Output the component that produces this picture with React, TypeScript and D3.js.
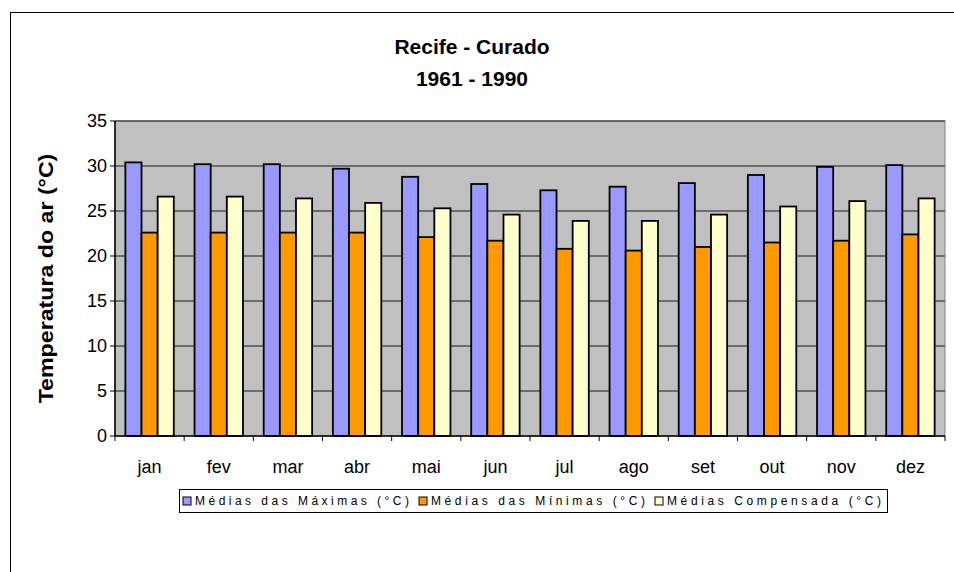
import React from "react";
import * as d3 from "d3";

const months = ["jan", "fev", "mar", "abr", "mai", "jun", "jul", "ago", "set", "out", "nov", "dez"];
const maxima = [30.4, 30.2, 30.2, 29.7, 28.8, 28.0, 27.3, 27.7, 28.1, 29.0, 29.9, 30.1];
const minima = [22.6, 22.6, 22.6, 22.6, 22.1, 21.7, 20.8, 20.6, 21.0, 21.5, 21.7, 22.4];
const compensada = [26.6, 26.6, 26.4, 25.9, 25.3, 24.6, 23.9, 23.9, 24.6, 25.5, 26.1, 26.4];
const seriesNames = ["Médias das Máximas (°C)", "Médias das Mínimas (°C)", "Médias Compensada (°C)"];
const seriesColors = ["#9999FF", "#FF9900", "#FFFFCC"];
const yTicks = [0, 5, 10, 15, 20, 25, 30, 35];
const titleLines = ["Recife - Curado", "1961 - 1990"];
const yTitle = "Temperatura do ar (°C)";

const W = 954;
const H = 572;
const plot = { left: 115, right: 945, top: 121, bottom: 436 };

export default function App() {
  const series = [maxima, minima, compensada];
  const x = d3.scaleBand<string>().domain(months).range([plot.left, plot.right]).paddingInner(0).paddingOuter(0);
  const groupPad = 0.3;
  const inner = d3
    .scaleBand<number>()
    .domain([0, 1, 2])
    .range([x.bandwidth() * (groupPad / 2), x.bandwidth() * (1 - groupPad / 2)]);
  const y = d3.scaleLinear().domain([0, 35]).range([plot.bottom, plot.top]);
  const font = "'Liberation Sans', Arial, sans-serif";

  const legendX = 179;
  const legendY = 489;
  const legendW = 708;
  const legendH = 23;
  const itemW = legendW / 3;

  return (
    <svg width={W} height={H} style={{ position: "absolute", left: 0, top: 0, background: "#fff" }} fontFamily={font}>
      <rect x={10.5} y={12.5} width={960} height={600} fill="#fff" stroke="#000" strokeWidth={1} />
      {titleLines.map((t, i) => (
        <text key={t} x={472} y={54 + i * 32} textAnchor="middle" fontSize={21} fontWeight="bold" fill="#000">
          {t}
        </text>
      ))}
      <rect x={plot.left} y={plot.top} width={plot.right - plot.left} height={plot.bottom - plot.top} fill="#C0C0C0" stroke="#808080" strokeWidth={1} />
      {yTicks.map((v) => (
        <g key={v}>
          {v > 0 && <line x1={plot.left} x2={plot.right} y1={y(v)} y2={y(v)} stroke="#505050" strokeWidth={1.5} />}
          <line x1={plot.left - 5} x2={plot.left} y1={y(v)} y2={y(v)} stroke="#000" strokeWidth={1} />
          <text x={107} y={y(v)} dy="0.35em" textAnchor="end" fontSize={18} fill="#000">
            {v}
          </text>
        </g>
      ))}
      {months.map((m, i) => (
        <g key={m}>
          {series.map((s, k) => (
            <rect
              key={k}
              x={(x(m) as number) + (inner(k) as number)}
              y={y(s[i])}
              width={inner.bandwidth()}
              height={y(0) - y(s[i])}
              fill={seriesColors[k]}
              stroke="#000"
              strokeWidth={1.8}
            />
          ))}
          <text x={(x(m) as number) + x.bandwidth() / 2} y={473} textAnchor="middle" fontSize={18} fill="#000">
            {m}
          </text>
        </g>
      ))}
      <line x1={plot.left} x2={plot.left} y1={plot.top} y2={plot.bottom} stroke="#000" strokeWidth={1.5} />
      <line x1={plot.left} x2={plot.right} y1={plot.bottom} y2={plot.bottom} stroke="#000" strokeWidth={1.5} />
      {months.concat(["end"]).map((m, i) => {
        const xx = plot.left + i * x.step();
        return <line key={"t" + i} x1={xx} x2={xx} y1={plot.bottom} y2={plot.bottom + 5} stroke="#000" strokeWidth={1} />;
      })}
      <text
        transform={`translate(53, ${(plot.top + plot.bottom) / 2}) rotate(-90) scale(1.16, 1)`}
        textAnchor="middle"
        fontSize={20}
        fontWeight="bold"
        fill="#000"
      >
        {yTitle}
      </text>
      <rect x={legendX + 0.5} y={legendY + 0.5} width={legendW} height={legendH} fill="#fff" stroke="#000" strokeWidth={1} />
      {seriesNames.map((n, k) => {
        const ix = legendX + 4 + k * itemW;
        return (
          <g key={n}>
            <rect x={ix} y={legendY + 8} width={8} height={8} fill={seriesColors[k]} stroke="#000" strokeWidth={1} />
            <text x={ix + 12} y={legendY + 16} fontSize={12} fill="#000" textLength={itemW - 22} lengthAdjust="spacing">
              {n}
            </text>
          </g>
        );
      })}
    </svg>
  );
}
